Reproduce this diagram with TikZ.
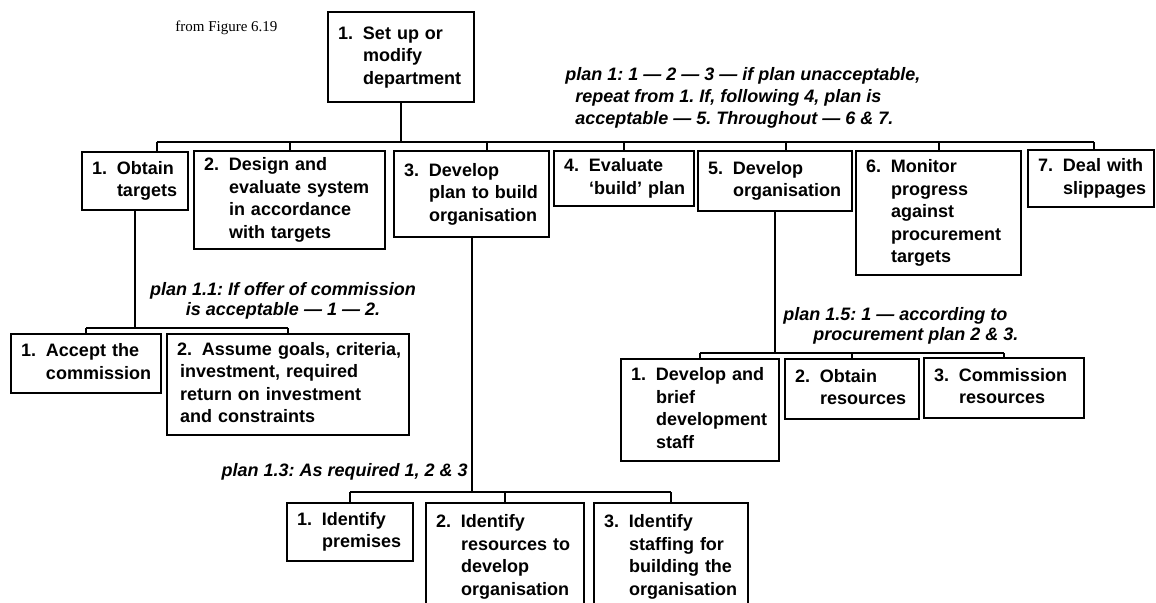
\documentclass[tikz,border=0pt]{standalone}
\usepackage{fontspec}
\setmainfont{Liberation Sans}
\newfontfamily\boxfont[Ligatures=TeX]{Liberation Sans}
\newfontfamily\srcfont[Ligatures=TeX]{Liberation Serif}
\usetikzlibrary{calc}
\frenchspacing
% numbered entry with hanging indent
\newcommand\nbox[1]{\begin{tabular}{@{}p{12.5pt}@{}l@{}}#1\end{tabular}}
\tikzset{
  box/.style={draw, line width=1pt, anchor=north west, inner xsep=5pt, inner ysep=2pt,
    align=left, font=\boxfont\bfseries\fontsize{9}{11.25}\selectfont},
  plan/.style={inner sep=0pt, font=\boxfont\bfseries\itshape\fontsize{9}{10}\selectfont},
  link/.style={line width=1pt},
}
\begin{document}
\begin{tikzpicture}[x=0.5pt,y=-0.5pt]
\useasboundingbox (0,0) rectangle (1156,602);
\clip (0,0) rectangle (1156,602);

\node[anchor=base west, inner sep=0pt, font=\srcfont\fontsize{7.5}{9}\selectfont] (src) at (175,31) {from Figure 6.19};

% top task
\node[box, text width=63pt, minimum height=45pt] (T) at (327,11) {\nbox{1.&Set up or\\&modify\\&department}};

\node[plan, anchor=north west, align=left, font=\boxfont\bfseries\itshape\fontsize{9}{11}\selectfont] (p1) at (565,67)
  {plan 1: 1 — 2 — 3 — if plan unacceptable,\\\hspace*{5pt}repeat from 1. If, following 4, plan is\\\hspace*{5pt}acceptable — 5. Throughout — 6 \& 7.};

% first level
\node[box, text width=43pt, minimum height=29pt] (b1) at (81,151) {\nbox{1.&Obtain\\&targets}};
\node[box, text width=85.5pt, minimum height=47.5pt] (b2) at (193,150) {\nbox{2.&Design and\\&evaluate system\\&in accordance\\&with targets}};
\node[box, text width=67.5pt, minimum height=43pt] (b3) at (393,150) {\nbox{3.&Develop\\&plan to build\\&organisation}};
\node[box, text width=60pt, minimum height=27.5pt] (b4) at (553,150) {\nbox{4.&Evaluate\\&‘build’ plan}};
\node[box, text width=67pt, minimum height=30pt] (b5) at (697,150) {\nbox{5.&Develop\\&organisation}};
\node[box, text width=72.5pt, minimum height=62pt] (b6) at (855,150) {\nbox{6.&Monitor\\&progress\\&against\\&procurement\\&targets}};
\node[box, text width=53pt, minimum height=28.5pt] (b7) at (1027,149) {\nbox{7.&Deal with\\&slippages}};

\coordinate (bus1) at ($(T.south)+(0,39)$);
\draw[link] (T.south) -- (T.south |- bus1);
\foreach \b/\f [count=\i] in {b1/0.7,b2/0.5,b3/0.6,b4/0.5,b5/0.57,b6/0.5,b7/0.52}{
  \coordinate (t\i) at ($(\b.north west)!\f!(\b.north east)$);
  \draw[link] (t\i) -- (t\i |- bus1);
}
\draw[link] (t1 |- bus1) -- (t7 |- bus1);

% plan 1.1
\node[plan, anchor=north, align=center] (p11) at (283,282) {plan 1.1: If offer of commission\\is acceptable — 1 — 2.};
\node[box, text width=65pt, minimum height=29.5pt] (A) at (10,333) {\nbox{1.&Accept the\\&commission}};
\node[box, text width=111pt, minimum height=50.5pt] (B) at (166,333)
  {\begin{tabular}{@{}l@{}}\makebox[12.5pt][l]{2.}Assume goals, criteria,\\\hspace*{1.5pt}investment, required\\\hspace*{1.5pt}return on investment\\\hspace*{1.5pt}and constraints\end{tabular}};
\coordinate (bus2) at (0,328);
\draw[link] (b1.south) -- (b1.south |- bus2);
\draw[link] (A.north |- bus2) -- (B.north |- bus2);
\foreach \n in {A,B} \draw[link] (\n.north) -- (\n.north |- bus2);

% plan 1.5
\node[plan, anchor=north west, align=left] (p15) at (783,307) {plan 1.5: 1 — according to\\\hspace*{15pt}procurement plan 2 \& 3.};
\node[box, text width=69pt, minimum height=51pt] (d1) at (620,358) {\nbox{1.&Develop and\\&brief\\&development\\&staff}};
\node[box, text width=57pt, minimum height=30pt] (d2) at (784,358) {\nbox{2.&Obtain\\&resources}};
\node[box, text width=70pt, minimum height=30pt] (d3) at (923,357) {\nbox{3.&Commission\\&resources}};
\coordinate (bus3) at (0,353);
\draw[link] (b5.south) -- (b5.south |- bus3);
\draw[link] (d1.north |- bus3) -- (d3.north |- bus3);
\foreach \n in {d1,d2,d3} \draw[link] (\n.north) -- (\n.north |- bus3);

% plan 1.3
\node[plan, anchor=base east] (p13) at (468,476) {plan 1.3: As required 1, 2 \& 3};
\node[box, text width=53pt, minimum height=29pt] (c1) at (286,502) {\nbox{1.&Identify\\&premises}};
\node[box, text width=69pt, minimum height=54pt] (c2) at (425,502) {\nbox{2.&Identify\\&resources to\\&develop\\&organisation}};
\node[box, text width=67pt, minimum height=54pt] (c3) at (593,502) {\nbox{3.&Identify\\&staffing for\\&building the\\&organisation}};
\coordinate (bus4) at (0,492);
\draw[link] (b3.south) -- (b3.south |- bus4);
\draw[link] (c1.north |- bus4) -- (c3.north |- bus4);
\foreach \n in {c1,c2,c3} \draw[link] (\n.north) -- (\n.north |- bus4);
\end{tikzpicture}
\end{document}
